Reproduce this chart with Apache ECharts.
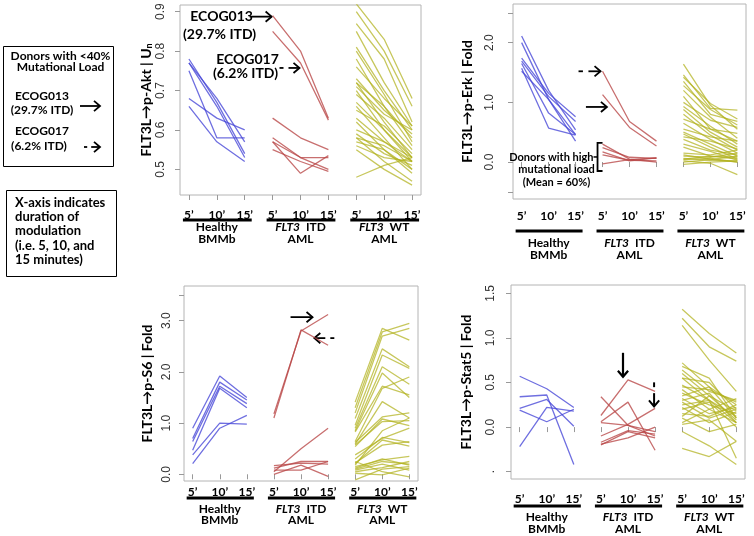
<!DOCTYPE html>
<html><head><meta charset="utf-8">
<script src="https://cdn.jsdelivr.net/npm/echarts@6/dist/echarts.min.js"></script>
<style>html,body{margin:0;padding:0;background:#fff}#c{width:754px;height:536px}</style>
</head><body><div id="c"></div>
<script>
// ---------- data ----------
const TIME_LABELS = ["5’", "10’", "15’"];
const GROUP_LINE1 = ["Healthy", "{i|FLT3}  ITD", "{i|FLT3}  WT"];
const GROUP_LINE2 = ["BMMb", "AML", "AML"];

const AKT_TICKS = [0.5, 0.6, 0.7, 0.8, 0.9];
const AKT_LABELS = [0.5, 0.6, 0.7, 0.8, 0.9];
const AKT_HEALTHY = [[0.78,0.67,0.54],[0.77,0.66,0.53],[0.77,0.68,0.57],[0.75,0.58,0.58],[0.68,0.63,0.60],[0.66,0.57,0.52]];
const AKT_ITD = [[0.89,0.80,0.63],[0.85,0.77,0.625],[0.63,0.58,0.55],[0.58,0.53,0.50],[0.57,0.53,0.53],[0.57,0.49,0.535],[0.55,0.52,0.495]];
const AKT_WT = [[0.92,0.83,0.68],[0.90,0.80,0.66],[0.87,0.78,0.62],[0.85,0.72,0.61],[0.81,0.70,0.60],[0.80,0.69,0.57],[0.78,0.66,0.56],[0.76,0.68,0.61],[0.73,0.65,0.59],[0.72,0.66,0.58],[0.72,0.62,0.53],[0.71,0.64,0.60],[0.70,0.60,0.52],[0.69,0.63,0.55],[0.67,0.60,0.53],[0.66,0.58,0.50],[0.65,0.61,0.54],[0.63,0.57,0.52],[0.62,0.55,0.49],[0.60,0.57,0.53],[0.59,0.54,0.51],[0.58,0.56,0.52],[0.58,0.52,0.47],[0.57,0.55,0.50],[0.56,0.53,0.52],[0.55,0.50,0.46],[0.48,0.51,0.53]];

const ERK_TICKS = [-0.5, 0, 1, 2, 2.5];
const ERK_LABELS = [0, 1, 2];
const ERK_HEALTHY = [[2.11,1.20,0.54],[2.00,1.05,0.46],[1.74,1.15,0.76],[1.69,1.10,0.68],[1.65,0.82,0.46],[1.57,0.57,0.45],[1.52,1.05,0.35]];
const ERK_ITD = [[1.13,0.58,0.27],[1.52,0.68,0.35],[0.30,0.05,0.00],[0.24,0.08,0.06],[0.17,0.02,0.07],[0.12,0.03,0.02],[-0.03,0.04,0.07]];
const ERK_WT = [[1.64,0.95,0.55],[1.46,0.90,0.87],[1.42,0.98,0.72],[1.35,0.80,0.68],[1.28,0.88,0.62],[1.20,0.75,0.40],[1.10,0.55,0.35],[1.00,0.70,0.58],[0.93,0.60,0.30],[0.88,0.50,0.25],[0.80,0.45,0.20],[0.72,0.55,0.48],[0.65,0.38,0.15],[0.55,0.42,0.35],[0.50,0.30,0.10],[0.47,0.25,0.05],[0.42,0.35,0.22],[0.38,0.20,0.12],[0.30,0.18,0.03],[0.25,0.10,0.08],[0.15,0.12,0.20],[0.12,0.05,0.00],[0.10,0.08,0.15],[0.06,0.03,0.02],[0.05,0.10,0.05],[0.04,0.06,0.00],[0.02,-0.02,-0.21],[-0.04,0.00,0.02],[0.00,0.04,0.10]];

const S6_TICKS = [0, 1, 2, 3, 3.5];
const S6_LABELS = [0, 1, 2, 3];
const S6_HEALTHY = [[0.90,1.92,1.50],[0.70,1.80,1.45],[0.64,1.72,1.38],[0.47,1.68,1.30],[0.38,1.00,0.98],[0.21,0.90,1.15]];
const S6_ITD = [[1.18,2.80,3.12],[1.10,2.82,2.52],[0.05,0.50,0.90],[0.17,0.22,0.20],[0.12,0.25,0.25],[0.08,0.08,0.25],[0.00,0.18,-0.04]];
const S6_WT = [[1.41,2.85,2.62],[1.30,2.78,2.95],[1.20,2.70,2.85],[1.09,2.45,2.10],[0.96,2.33,2.07],[0.90,2.10,1.76],[0.85,1.98,1.50],[0.83,1.72,1.55],[0.64,1.68,1.90],[0.59,1.42,1.10],[0.62,1.12,1.20],[0.54,1.08,0.95],[0.57,1.03,1.05],[0.38,0.70,0.90],[0.30,0.72,0.62],[0.21,0.67,0.55],[0.22,0.57,0.64],[0.18,0.85,1.10],[0.15,0.28,0.35],[0.10,0.25,0.20],[0.12,0.30,0.18],[0.05,0.13,0.25],[0.08,0.20,0.08],[0.02,-0.01,0.12],[-0.11,0.10,0.15],[0.25,0.05,-0.05]];

const STAT5_TICKS = [-0.5, 0, 0.5, 1, 1.5];
const STAT5_LABELS = [-0.5, 0, 0.5, 1, 1.5];
const STAT5_HEALTHY = [[0.57,0.43,0.22],[0.34,0.36,-0.42],[0.21,0.31,0.01],[0.19,0.06,0.20],[-0.22,0.22,0.18]];
const STAT5_ITD = [[0.13,0.53,0.40],[-0.10,0.03,0.21],[0.34,0.02,-0.10],[0.06,0.28,-0.26],[0.05,0.02,-0.05],[-0.17,-0.04,-0.08],[-0.19,-0.12,0.00],[-0.20,-0.05,-0.12]];
const STAT5_WT = [[1.32,1.05,0.83],[1.22,0.90,0.74],[1.14,0.75,0.40],[0.72,0.45,0.25],[0.68,0.55,0.10],[0.64,0.40,0.30],[0.60,0.35,0.18],[0.55,0.50,0.20],[0.47,0.30,0.05],[0.45,0.42,0.28],[0.42,0.20,0.32],[0.38,0.25,0.15],[0.35,0.45,0.10],[0.32,0.15,0.22],[0.30,0.38,0.05],[0.28,0.10,0.20],[0.25,0.30,0.12],[0.22,0.05,0.17],[0.20,0.28,0.00],[0.15,0.12,0.25],[0.12,0.35,0.08],[0.10,-0.05,0.03],[0.05,0.20,0.05],[0.03,0.08,-0.16],[0.55,0.30,-0.35],[-0.05,-0.21,-0.42],[-0.24,-0.33,-0.16]];

// ---------- layout / style ----------
const COLORS = ['rgba(70,70,215,0.78)', 'rgba(185,70,70,0.78)', 'rgba(178,178,30,0.72)'];
const PANELS = [
  {name:'FLT3L→p-Akt | U{s|n}', data:[AKT_HEALTHY,AKT_ITD,AKT_WT], ticks:AKT_TICKS, labels:AKT_LABELS, min:0.435, max:0.917,
   grid:{left:180,top:5,width:241,height:190}, nameGap:26, yMargin:13, xMargin:14, bar:25, l1:32.5, l2:44},
  {name:'FLT3L→p-Erk | Fold', data:[ERK_HEALTHY,ERK_ITD,ERK_WT], ticks:ERK_TICKS, labels:ERK_LABELS, min:-0.619, max:2.647,
   grid:{left:513,top:4,width:233,height:195}, nameGap:39, yMargin:17, xMargin:11, bar:32, l1:44, l2:56},
  {name:'FLT3L→p-S6 | Fold', data:[S6_HEALTHY,S6_ITD,S6_WT], ticks:S6_TICKS, labels:S6_LABELS, min:-0.131, max:3.678,
   grid:{left:184,top:286,width:234,height:195}, nameGap:30, yMargin:11, xMargin:5, bar:17, l1:28.5, l2:39.5},
  {name:'FLT3L→p-Stat5 | Fold', data:[STAT5_HEALTHY,STAT5_ITD,STAT5_WT], ticks:STAT5_TICKS, labels:STAT5_LABELS, min:-0.582, max:1.593,
   grid:{left:511,top:285,width:234,height:194}, nameGap:38, yMargin:14, xMargin:14, bar:27, l1:38.5, l2:50.5, dotLow:true}
];
const FONT = 'Lato, "Open Sans", sans-serif';

const chart = echarts.init(document.getElementById('c'), null, {renderer:'canvas'});
const grids = [], xAxes = [], yAxes = [], series = [];
PANELS.forEach((p, pi) => {
  grids.push(Object.assign({show:true, borderColor:'#b4b4b4', borderWidth:1, backgroundColor:'transparent'}, p.grid));
  xAxes.push({type:'value', gridIndex:pi, min:0.68, max:9.32,
    axisLine:{show:false}, splitLine:{show:false},
    axisTick:{show:true, customValues:[1,2,3,4,5,6,7,8,9], length:5, lineStyle:{color:'#999'}},
    axisLabel:{customValues:[1,2,3,4,5,6,7,8,9], formatter:v => TIME_LABELS[(Math.round(v)-1)%3], margin:p.xMargin,
      fontFamily:FONT, fontWeight:'bold', fontSize:12, color:'#000'}});
  yAxes.push({type:'value', gridIndex:pi, min:p.min, max:p.max,
    axisLine:{show:false}, splitLine:{show:false},
    axisTick:{show:true, customValues:p.ticks, length:5, lineStyle:{color:'#999'}},
    axisLabel:{customValues:p.labels, rotate:90, margin:p.yMargin, fontFamily:'"Liberation Sans", Arial, sans-serif', fontSize:12, color:'#333',
      formatter:v => (p.dotLow && v < 0) ? '.' : v.toFixed(1)},
    name:p.name, nameLocation:'middle', nameRotate:90, nameGap:p.nameGap,
    nameTextStyle:{fontFamily:FONT, fontWeight:'bold', fontSize:14, color:'#000',
      rich:{s:{fontFamily:FONT, fontWeight:'bold', fontSize:9, color:'#000', verticalAlign:'bottom', padding:[6,0,0,0]}}}});
  p.data.forEach((grp, gi) => grp.forEach(line => {
    series.push({type:'line', xAxisIndex:pi, yAxisIndex:pi, silent:true, symbol:'none',
      data: line.map((v, k) => [gi*3 + k + 1, v]),
      lineStyle:{color:COLORS[gi], width:1.3}});
  }));
});

chart.setOption({animation:false, grid:grids, xAxis:xAxes, yAxis:yAxes, series:series});

// ---------- annotations ----------
const G = [];
const px = (pi, x, y) => chart.convertToPixel({gridIndex:pi}, [x, y]);
function text(t, x, y, size, align, extra) {
  G.push({type:'text', x:x, y:y, silent:true, style:Object.assign({text:t, fill:'#000',
    font:'bold ' + size + 'px ' + FONT, align:align || 'center', verticalAlign:'middle',
    textAlign:align || 'center', textVerticalAlign:'middle'}, extra || {})});
}
function seg(x1, y1, x2, y2, w) {
  G.push({type:'line', silent:true, shape:{x1:x1,y1:y1,x2:x2,y2:y2}, style:{stroke:'#000', lineWidth:w||2}});
}
function arrow(x1, y1, x2, y2, dashed, w, h) {
  w = w || 2; h = h || 6;
  const dx = x2-x1, dy = y2-y1, L = Math.hypot(dx, dy), ux = dx/L, uy = dy/L, qx = -uy, qy = ux;
  if (dashed) {
    seg(x1, y1, x1 + ux*L*0.2, y1 + uy*L*0.2, w);
    seg(x1 + ux*L*0.45, y1 + uy*L*0.45, x2, y2, w);
  } else seg(x1, y1, x2, y2, w);
  G.push({type:'polyline', silent:true, shape:{points:[[x2 - h*ux + h*0.85*qx, y2 - h*uy + h*0.85*qy],[x2, y2],[x2 - h*ux - h*0.85*qx, y2 - h*uy - h*0.85*qy]]},
    style:{stroke:'#000', lineWidth:w, fill:'none'}});
}

// group bars and labels under each panel
PANELS.forEach((p, pi) => {
  const bottom = p.grid.top + p.grid.height;
  for (let gi = 0; gi < 3; gi++) {
    const a = px(pi, gi*3+1, 0)[0], b = px(pi, gi*3+3, 0)[0], m = px(pi, gi*3+2, 0)[0];
    G.push({type:'rect', silent:true, shape:{x:a-6, y:bottom+p.bar-1.5, width:(b-a)+13, height:3}, style:{fill:'#000'}});
    text(GROUP_LINE1[gi], m, bottom + p.l1, 12, 'center', {rich:{i:{fontStyle:'italic', fontWeight:'bold', fontSize:12, fontFamily:FONT}}});
    text(GROUP_LINE2[gi], m, bottom + p.l2, 12);
  }
});

// panel 1 annotations (p-Akt)
{
  const t1 = px(0, 4, AKT_ITD[0][0]);
  arrow(t1[0]-23, t1[1]+1, t1[0]-1, t1[1]+1, false, 1.8, 6);
  text('ECOG013', t1[0]-51, t1[1]+1, 14);
  text('(29.7% ITD)', t1[0]-53, t1[1]+19, 14);
  const t2 = px(0, 5, AKT_ITD[1][1]);
  arrow(t2[0]-21, t2[1]+5, t2[0]-1, t2[1]+5, true, 1.8, 6);
  text('ECOG017', t2[0]-53, t2[1]-3, 14);
  text('(6.2% ITD)', t2[0]-55, t2[1]+11, 14);
}
// panel 2 annotations (p-Erk)
{
  const d = px(1, 4, ERK_ITD[1][0]);
  arrow(d[0]-24, d[1], d[0]-2, d[1], true, 1.8, 6);
  const s = px(1, 4.2, 1.04);
  arrow(s[0]-22, s[1]+7, s[0]-1, s[1]+7, false, 1.8, 6);
  const top = px(1, 4, 0.32)[1], bot = px(1, 4, -0.15)[1], bx = px(1, 4, 0)[0] - 5, mid = (top+bot)/2;
  G.push({type:'polyline', silent:true, shape:{points:[[bx+5, top],[bx, top],[bx, bot],[bx+5, bot]]}, style:{stroke:'#000', lineWidth:1.8, fill:'none'}});
  seg(bx-4, mid, bx, mid, 1.5);
  text('Donors with high', bx-4, mid, 11, 'right');
  text('mutational load', bx-41, mid + 12.5, 11);
  text('(Mean = 60%)', bx-41, mid + 25, 11);
}
// panel 3 annotations (p-S6)
{
  const a = px(2, 5.5, 3.07);
  arrow(a[0]-24, a[1], a[0]-2, a[1], false, 1.8, 6);
  const b = px(2, 5.75, 2.66);
  arrow(b[0]+13, b[1], b[0]-7, b[1], true, 1.8, 6);
}
// panel 4 annotations (p-Stat5)
{
  const a = px(3, 5, STAT5_ITD[0][1]);
  arrow(a[0]-5, a[1]-27, a[0]-5, a[1]-3, false, 2.2, 6);
  const b = px(3, 6, STAT5_ITD[1][2]);
  arrow(b[0]-1, b[1]-26, b[0]-1, b[1]-2, true, 2, 6);
}

// left info boxes
G.push({type:'rect', silent:true, shape:{x:3.5, y:46.5, width:110, height:120}, style:{fill:'none', stroke:'#000', lineWidth:1}});
text('Donors with <40%', 60.5, 56.5, 12);
text('Mutational Load', 60.5, 67.5, 12);
text('ECOG013', 42, 96.5, 12);
text('(29.7% ITD)', 42, 110, 12);
arrow(80, 106, 100, 106, false, 1.8, 6);
text('ECOG017', 42, 131.5, 12);
text('(6.2% ITD)', 39, 146.5, 12);
arrow(84, 147, 100, 147, true, 1.8, 6);

G.push({type:'rect', silent:true, shape:{x:6.5, y:190.5, width:110, height:86}, style:{fill:'none', stroke:'#000', lineWidth:1}});
['X-axis indicates', 'duration of', 'modulation', '(i.e. 5, 10, and', '15 minutes)'].forEach((t, i) => {
  text(t, 15, 202.5 + i*14.3, 13, 'left');
});

chart.setOption({graphic:G});
</script>
</body></html>
